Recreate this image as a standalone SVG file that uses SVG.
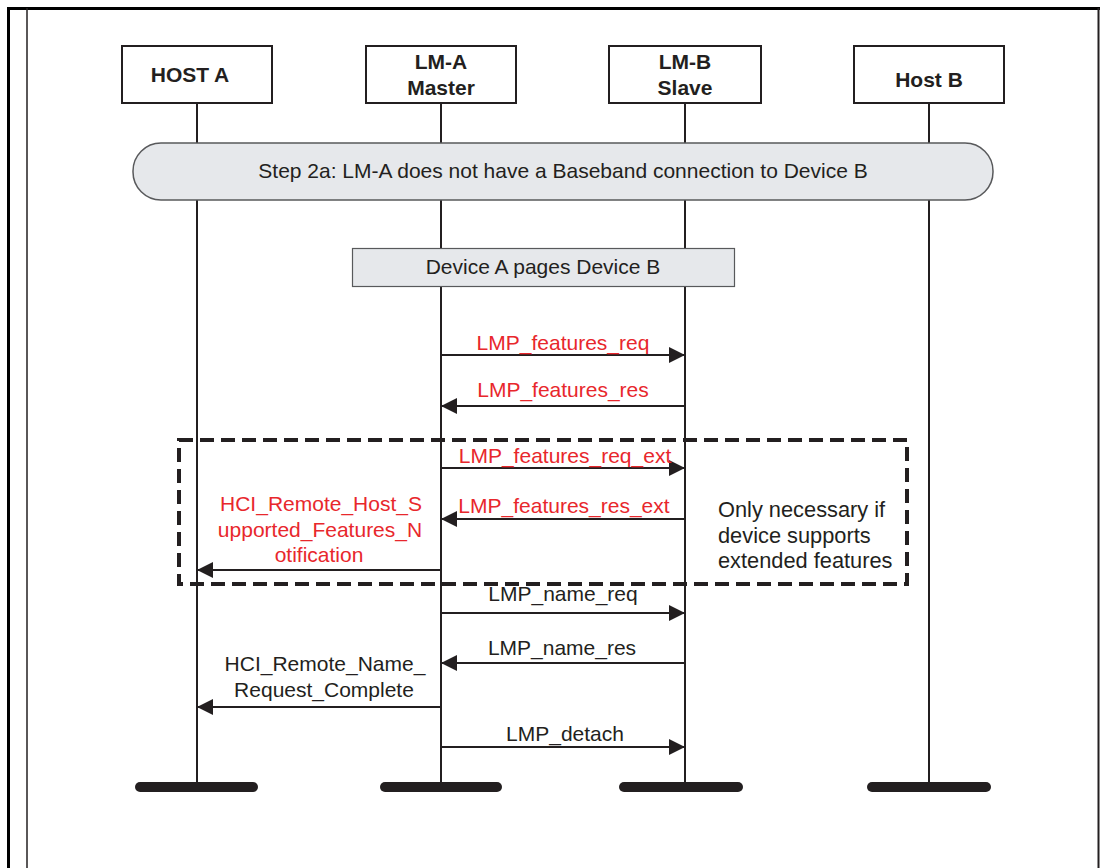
<svg xmlns="http://www.w3.org/2000/svg" width="1106" height="868" viewBox="0 0 1106 868">
<style>
.box{fill:#fff;stroke:#231f20;stroke-width:2}
.life{stroke:#231f20;stroke-width:2;fill:none}
.bar{fill:#231f20}
.t{font-family:"Liberation Sans",Arial,sans-serif;font-size:21px;fill:#231f20;text-anchor:middle}
.s{text-anchor:start;font-size:21.8px}
.b{font-weight:bold}
.red{fill:#e8272c}
.msg{stroke:#231f20;stroke-width:2;fill:none;marker-end:url(#ah)}
</style>
<defs>
<marker id="ah" markerUnits="userSpaceOnUse" markerWidth="16" markerHeight="16" refX="16" refY="8" orient="auto">
<path d="M0,0 L16,8 L0,16 z" fill="#231f20"/>
</marker>
</defs>
<rect width="1106" height="868" fill="#fff"/>
<g id="frame">
<line x1="8.5" y1="7" x2="8.5" y2="868" stroke="#000" stroke-width="3"/>
<line x1="7" y1="8.5" x2="1100" y2="8.5" stroke="#000" stroke-width="3"/>
<line x1="27" y1="8" x2="27" y2="868" stroke="#231f20" stroke-width="1.5"/>
<line x1="1098.5" y1="8" x2="1098.5" y2="868" stroke="#231f20" stroke-width="2"/>
</g>
<g id="lifelines">
<line class="life" x1="197" y1="103" x2="197" y2="784"/>
<line class="life" x1="441" y1="103" x2="441" y2="784"/>
<line class="life" x1="685" y1="103" x2="685" y2="784"/>
<line class="life" x1="929" y1="103" x2="929" y2="784"/>
<rect class="bar" x="135" y="782" width="123" height="10" rx="5"/>
<rect class="bar" x="380" y="782" width="122" height="10" rx="5"/>
<rect class="bar" x="619" y="782" width="124" height="10" rx="5"/>
<rect class="bar" x="867" y="782" width="124" height="10" rx="5"/>
</g>
<g id="hostA">
<rect class="box" x="122" y="46" width="150" height="57"/>
<text class="t b" x="190" y="82" font-size="21.5">HOST A</text>
</g>
<g id="lmA">
<rect class="box" x="366" y="46" width="150" height="57"/>
<text class="t b" x="441" y="69">LM-A</text>
<text class="t b" x="441" y="95">Master</text>
</g>
<g id="lmB">
<rect class="box" x="609" y="46" width="152" height="57"/>
<text class="t b" x="685" y="69">LM-B</text>
<text class="t b" x="685" y="95">Slave</text>
</g>
<g id="hostB">
<rect class="box" x="854" y="46" width="150" height="57"/>
<text class="t b" x="929" y="87" font-size="21.5">Host B</text>
</g>
<g id="step2a">
<rect x="133" y="143" width="860" height="57" rx="28" ry="28" fill="#e6e8eb" stroke="#58595b" stroke-width="1.5"/>
<text class="t" x="563" y="178" font-size="20">Step 2a: LM-A does not have a Baseband connection to Device B</text>
</g>
<g id="paging">
<rect x="352.5" y="248.5" width="382" height="38" fill="#e6e8eb" stroke="#58595b" stroke-width="1.2"/>
<text class="t" x="543" y="274" font-size="20">Device A pages Device B</text>
</g>
<g id="optional">
<rect x="179" y="440" width="728" height="144" fill="none" stroke="#231f20" stroke-width="4" stroke-dasharray="14,7"/>
<text class="t s" x="718" y="517">Only necessary if</text>
<text class="t s" x="718" y="543">device supports</text>
<text class="t s" x="718" y="568">extended features</text>
</g>
<g id="connectors">
<line class="msg" x1="441" y1="355" x2="685" y2="355"/>
<line class="msg" x1="685" y1="406" x2="441" y2="406"/>
<line class="msg" x1="441" y1="468" x2="685" y2="468"/>
<line class="msg" x1="685" y1="519" x2="441" y2="519"/>
<line class="msg" x1="441" y1="570" x2="197" y2="570"/>
<line class="msg" x1="441" y1="613" x2="685" y2="613"/>
<line class="msg" x1="685" y1="663" x2="441" y2="663"/>
<line class="msg" x1="441" y1="707" x2="197" y2="707"/>
<line class="msg" x1="441" y1="747" x2="685" y2="747"/>
</g>
<g id="labels">
<text class="t red" x="563" y="350">LMP_features_req</text>
<text class="t red" x="563" y="397">LMP_features_res</text>
<text class="t red" x="565" y="463">LMP_features_req_ext</text>
<text class="t red" x="564" y="513">LMP_features_res_ext</text>
<text class="t red" x="321" y="511">HCI_Remote_Host_S</text>
<text class="t red" x="320" y="537">upported_Features_N</text>
<text class="t red" x="319" y="562">otification</text>
<text class="t" x="563" y="601">LMP_name_req</text>
<text class="t" x="562" y="655">LMP_name_res</text>
<text class="t" x="325" y="671">HCI_Remote_Name_</text>
<text class="t" x="324" y="697">Request_Complete</text>
<text class="t" x="565" y="741">LMP_detach</text>
</g>
</svg>
